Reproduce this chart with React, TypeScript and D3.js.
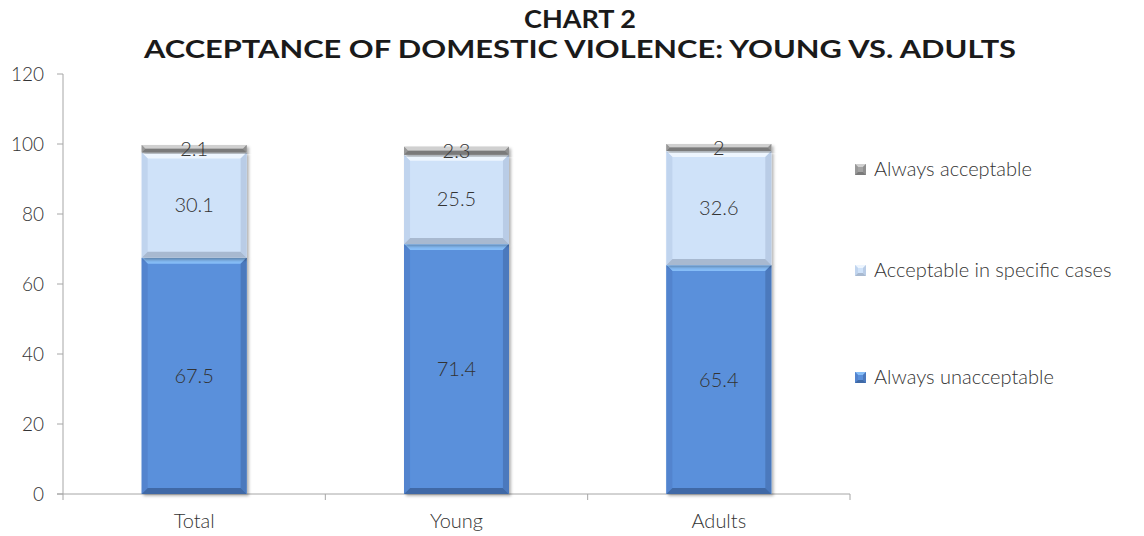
import React from "react";
import * as d3 from "d3";

const categories = ["Total", "Young", "Adults"];
const alwaysUnacceptable = [67.5, 71.4, 65.4];
const acceptableSpecific = [30.1, 25.5, 32.6];
const alwaysAcceptable = [2.1, 2.3, 2];
const seriesNames = ["Always unacceptable", "Acceptable in specific cases", "Always acceptable"];
const yTicks = [0, 20, 40, 60, 80, 100, 120];
const titleLines = ["CHART 2", "ACCEPTANCE OF DOMESTIC VIOLENCE: YOUNG VS. ADULTS"];

const palettes = [
  { main: "#5A90DB", top: "#86BDF7", left: "#5384CE", right: "#4B79BD", bottom: "#3F69A6" },
  { main: "#CFE2F9", top: "#EDF5FE", left: "#C0D4EE", right: "#B9CCE6", bottom: "#A8B9D0" },
  { main: "#A3A3A3", top: "#D0D0D0", left: "#989898", right: "#8F8F8F", bottom: "#7A7A7A" },
];

const W = 1144;
const H = 536;
const plot = { left: 63, right: 850, top: 74, bottom: 494 };
const FONT = "Lato, 'Open Sans', sans-serif";
const TEXT = "#333333";
const AXIS = "#A6A6A6";

function Bevel({ x, y, w, h, p, b }: { x: number; y: number; w: number; h: number; p: any; b: number }) {
  const bb = Math.min(b, h / 2, w / 2);
  const pts = (a: number[][]) => a.map((q) => q.join(",")).join(" ");
  return (
    <g>
      <rect x={x} y={y} width={w} height={h} fill={p.main} />
      <polygon points={pts([[x, y], [x + w, y], [x + w - bb, y + bb], [x + bb, y + bb]])} fill={p.top} />
      <polygon points={pts([[x, y], [x + bb, y + bb], [x + bb, y + h - bb], [x, y + h]])} fill={p.left} />
      <polygon points={pts([[x + w, y], [x + w - bb, y + bb], [x + w - bb, y + h - bb], [x + w, y + h]])} fill={p.right} />
      <polygon points={pts([[x, y + h], [x + bb, y + h - bb], [x + w - bb, y + h - bb], [x + w, y + h]])} fill={p.bottom} />
    </g>
  );
}

export default function App() {
  const x = d3.scaleBand<string>().domain(categories).range([plot.left, plot.right]).paddingInner(0.6).paddingOuter(0.3);
  const y = d3.scaleLinear().domain([0, 120]).range([plot.bottom, plot.top]);
  const series = [alwaysUnacceptable, acceptableSpecific, alwaysAcceptable];
  const table = categories.map((c, i) => ({ cat: c, s0: series[0][i], s1: series[1][i], s2: series[2][i] }));
  const stacked = d3.stack<any>().keys(["s0", "s1", "s2"])(table);
  const step = x.step();
  const bandStarts = categories.map((c) => (x(c) as number) - (step - x.bandwidth()) / 2);

  const legendY = [377, 270, 169];
  const titleWidths = [112, 872];

  return (
    <svg width={W} height={H} style={{ position: "absolute", left: 0, top: 0, background: "#fff" }}>
      <defs>
        <filter id="sh" x="-10%" y="-10%" width="130%" height="130%">
          <feDropShadow dx="2" dy="2" stdDeviation="1.5" floodColor="#000" floodOpacity="0.3" />
        </filter>
      </defs>
      {titleLines.map((t, i) => (
        <text
          key={t}
          x={580}
          y={28 + i * 30}
          textAnchor="middle"
          fontFamily={FONT}
          fontWeight={700}
          fontSize={24}
          fill="#1a1a1a"
          textLength={titleWidths[i]}
          lengthAdjust="spacingAndGlyphs"
        >
          {t}
        </text>
      ))}
      {/* y axis */}
      <line x1={plot.left} x2={plot.left} y1={plot.top} y2={plot.bottom} stroke={AXIS} strokeWidth={1} />
      {yTicks.map((t) => (
        <g key={t}>
          <line x1={plot.left - 6} x2={plot.left} y1={y(t)} y2={y(t)} stroke={AXIS} />
          <text x={plot.left - 19} y={y(t)} dy="0.35em" textAnchor="end" fontFamily={FONT} fontWeight={300} fontSize={19} fill={TEXT}>
            {t}
          </text>
        </g>
      ))}
      {/* x axis */}
      <line x1={plot.left - 6} x2={plot.right} y1={plot.bottom} y2={plot.bottom} stroke={AXIS} />
      {[...bandStarts, plot.right].map((bx, i) => (
        <line key={i} x1={bx} x2={bx} y1={plot.bottom} y2={plot.bottom + 6} stroke={AXIS} />
      ))}
      {/* bars */}
      {stacked.map((layer, si) => (
        <g key={si}>
          {layer.map((d, ci) => {
            const x0 = x(categories[ci]) as number;
            const yTop = y(d[1]);
            const yBot = y(d[0]);
            return (
              <g key={ci} filter="url(#sh)">
                <Bevel x={x0} y={yTop} w={x.bandwidth()} h={yBot - yTop} p={palettes[si]} b={6} />
              </g>
            );
          })}
        </g>
      ))}
      {stacked.map((layer, si) =>
        layer.map((d, ci) => (
          <text
            key={`${si}-${ci}`}
            x={(x(categories[ci]) as number) + x.bandwidth() / 2}
            y={y((d[0] + d[1]) / 2)}
            dy="0.35em"
            textAnchor="middle"
            fontFamily={FONT}
            fontWeight={300}
            fontSize={20}
            fill={TEXT}
          >
            {series[si][ci]}
          </text>
        ))
      )}
      {categories.map((c) => (
        <text key={c} x={(x(c) as number) + x.bandwidth() / 2} y={521} dy="0.35em" textAnchor="middle" fontFamily={FONT} fontWeight={300} fontSize={20} fill={TEXT}>
          {c}
        </text>
      ))}
      {/* legend */}
      {seriesNames.map((n, i) => (
        <g key={n}>
          <g transform={`translate(855,${legendY[i] - 5})`}>
            <Bevel x={0} y={0} w={11} h={11} p={palettes[i]} b={3} />
          </g>
          <text x={874} y={legendY[i]} dy="0.35em" fontFamily={FONT} fontWeight={300} fontSize={20} fill={TEXT}>
            {n}
          </text>
        </g>
      ))}
    </svg>
  );
}
